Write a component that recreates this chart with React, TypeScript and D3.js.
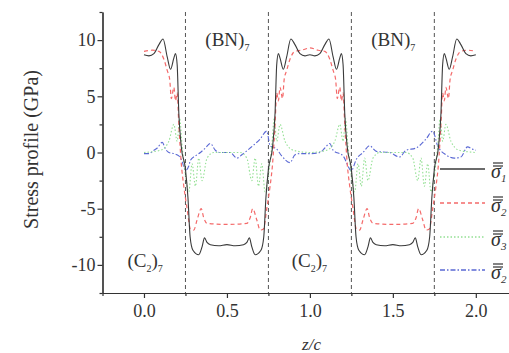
import React, { useEffect, useRef } from 'react';
import * as d3 from 'd3';

// stress profiles along the superlattice (z/c, GPa)
const sigma1: [number, number][] = [
  [0, 8.7], [0.03, 8.6], [0.06, 8.8], [0.09, 9.6], [0.115, 10.1], [0.14, 8.5], [0.16, 7.4],
  [0.18, 8.4], [0.19, 8.8], [0.2, 7.8], [0.21, 3.5], [0.225, 0.5], [0.25, -1.5], [0.265, -4],
  [0.278, -7.5], [0.295, -8.7], [0.33, -9.1], [0.35, -8.4], [0.365, -7.6], [0.38, -8.0],
  [0.4, -8.2], [0.45, -8.3], [0.5, -8.2], [0.55, -8.3], [0.6, -8.2], [0.62, -8.0], [0.635, -7.6],
  [0.65, -8.4], [0.67, -9.1], [0.705, -8.7], [0.722, -7.5], [0.735, -4], [0.75, -1.5],
  [0.775, 0.5], [0.79, 3.5], [0.8, 7.8], [0.81, 8.8], [0.82, 8.4], [0.84, 7.4], [0.86, 8.5],
  [0.885, 10.1], [0.91, 9.6], [0.94, 8.8], [0.97, 8.6], [1.0, 8.7],
  [1.03, 8.6], [1.06, 8.8], [1.09, 9.6], [1.115, 10.1], [1.14, 8.5], [1.16, 7.4], [1.18, 8.4],
  [1.19, 8.8], [1.2, 7.8], [1.21, 3.5], [1.225, 0.5], [1.25, -1.5], [1.265, -4], [1.278, -7.5],
  [1.295, -8.7], [1.33, -9.1], [1.35, -8.4], [1.365, -7.6], [1.38, -8.0], [1.4, -8.2],
  [1.45, -8.3], [1.5, -8.2], [1.55, -8.3], [1.6, -8.2], [1.62, -8.0], [1.635, -7.6], [1.65, -8.4],
  [1.67, -9.1], [1.705, -8.7], [1.722, -7.5], [1.735, -4], [1.75, -1.5], [1.775, 0.5],
  [1.79, 3.5], [1.8, 7.8], [1.81, 8.8], [1.82, 8.4], [1.84, 7.4], [1.86, 8.5], [1.885, 10.1],
  [1.91, 9.6], [1.94, 8.8], [1.97, 8.6], [2.0, 8.7],
];

const sigma2: [number, number][] = [
  [0, 9.0], [0.05, 9.1], [0.09, 9.0], [0.12, 8.3], [0.14, 7.3], [0.155, 6.5], [0.165, 4.8],
  [0.18, 5.8], [0.19, 4.6], [0.2, 5.3], [0.21, 2.5], [0.225, -1], [0.24, -3], [0.26, -5],
  [0.28, -6.8], [0.3, -6.9], [0.32, -6], [0.345, -5], [0.36, -5.8], [0.38, -6.3], [0.5, -6.4],
  [0.62, -6.3], [0.64, -5.8], [0.655, -5], [0.68, -6], [0.7, -6.9], [0.72, -6.8], [0.74, -5],
  [0.76, -3], [0.775, -1], [0.79, 2.5], [0.8, 5.3], [0.81, 4.6], [0.82, 5.8], [0.835, 4.8],
  [0.845, 6.5], [0.86, 7.3], [0.88, 8.3], [0.91, 9.0], [0.95, 9.1], [1.0, 9.3],
  [1.05, 9.1], [1.09, 9.0], [1.12, 8.3], [1.14, 7.3], [1.155, 6.5], [1.165, 4.8], [1.18, 5.8],
  [1.19, 4.6], [1.2, 5.3], [1.21, 2.5], [1.225, -1], [1.24, -3], [1.26, -5], [1.28, -6.8],
  [1.3, -6.9], [1.32, -6], [1.345, -5], [1.36, -5.8], [1.38, -6.3], [1.5, -6.4], [1.62, -6.3],
  [1.64, -5.8], [1.655, -5], [1.68, -6], [1.7, -6.9], [1.72, -6.8], [1.74, -5], [1.76, -3],
  [1.775, -1], [1.79, 2.5], [1.8, 5.3], [1.81, 4.6], [1.82, 5.8], [1.835, 4.8], [1.845, 6.5],
  [1.86, 7.3], [1.88, 8.3], [1.91, 9.0], [1.95, 9.1], [2.0, 9.0],
];

const sigma3: [number, number][] = [
  [0, 0], [0.1, 0.2], [0.15, 1], [0.18, 2.5], [0.2, 1], [0.215, 3], [0.23, 0.5], [0.25, -2],
  [0.27, -3.5], [0.29, -1], [0.31, -3], [0.33, -0.5], [0.35, -2.5], [0.38, -0.5], [0.42, 0],
  [0.58, 0], [0.62, -0.5], [0.65, -2.5], [0.67, -0.5], [0.69, -3], [0.71, -1], [0.73, -3.5],
  [0.75, -2], [0.77, 0.5], [0.785, 3], [0.8, 1], [0.82, 2.5], [0.85, 1], [0.9, 0.2], [1.0, 0],
  [1.1, 0.2], [1.15, 1], [1.18, 2.5], [1.2, 1], [1.215, 3], [1.23, 0.5], [1.25, -2],
  [1.27, -3.5], [1.29, -1], [1.31, -3], [1.33, -0.5], [1.35, -2.5], [1.38, -0.5], [1.42, 0],
  [1.58, 0], [1.62, -0.5], [1.65, -2.5], [1.67, -0.5], [1.69, -3], [1.71, -1], [1.73, -3.5],
  [1.75, -2], [1.77, 0.5], [1.785, 3], [1.8, 1], [1.82, 2.5], [1.85, 1], [1.9, 0.2], [2.0, 0],
];

const sigma4: [number, number][] = [
  [0, -0.1], [0.03, -0.1], [0.06, 0.2], [0.08, 0.4], [0.11, 0.9], [0.13, 0.3], [0.15, 0],
  [0.18, -0.1], [0.21, -0.3], [0.23, -0.8], [0.25, -1.6], [0.27, -1.2], [0.28, -0.7],
  [0.31, -0.3], [0.34, 0], [0.37, 0.4], [0.4, 0.8], [0.43, 0.2], [0.46, 0], [0.52, 0],
  [0.56, -0.5], [0.59, -0.2], [0.64, 0.4], [0.7, 1.2], [0.74, 1.9], [0.76, 0.6], [0.8, 0.3],
  [0.83, -0.3], [0.88, -0.9], [0.91, -0.2], [0.94, -0.1], [1.0, -0.1], [1.06, 0], [1.09, 0.4],
  [1.12, 0.8], [1.14, 0.2], [1.2, -0.3], [1.25, -1.6], [1.28, -0.6], [1.32, 0], [1.36, 0.6],
  [1.4, 0.1], [1.48, 0], [1.54, -0.4], [1.58, 0.2], [1.64, 0.4], [1.7, 1.2], [1.74, 1.9],
  [1.77, 0.6], [1.82, -0.2], [1.87, -0.5], [1.91, -0.4], [1.95, 0.5], [1.98, 0.3], [2.0, 0.2],
];

const xTicks = [0, 0.5, 1.0, 1.5, 2.0];
const xMinorTicks = [-0.25, 0.25, 0.75, 1.25, 1.75];
const yTicks = [-10, -5, 0, 5, 10];
const yMinorTicks = [-12.5, -7.5, -2.5, 2.5, 7.5, 12.5];
const interfaces = [0.25, 0.75, 1.25, 1.75];
const legendSubs = ['1', '2', '3', '2'];

const regionLabels = [
  { text: '(BN)', sub: '7', z: 0.37, v: 9.5 },
  { text: '(BN)', sub: '7', z: 1.37, v: 9.5 },
  { text: '(C', sub: '2', tail: ')', sub2: '7', z: -0.1, v: -10.2 },
  { text: '(C', sub: '2', tail: ')', sub2: '7', z: 0.89, v: -10.2 },
];

const width = 509;
const height = 353;
const serif = "'Liberation Serif', 'Times New Roman', serif";

const App = () => {
  const chartRef = useRef<SVGSVGElement>(null);

  useEffect(() => {
    const svg = d3.select(chartRef.current);
    svg.selectAll('*').remove();

    const x = d3.scaleLinear().domain([-0.25, 2.2]).range([102.5, 509]);
    const y = d3.scaleLinear().domain([-12.5, 12.5]).range([293, 12]);

    const series = [
      { data: sigma1, color: '#3a3a3a', dash: null, w: 1.1 },
      { data: sigma2, color: '#f46a6a', dash: '4,3', w: 1.2 },
      { data: sigma3, color: '#94e094', dash: '1.5,2', w: 1.1 },
      { data: sigma4, color: '#5a68d4', dash: '5,2,1.5,2', w: 1.1 },
    ];

    // interface markers
    svg.append('g')
      .selectAll('line')
      .data(interfaces)
      .join('line')
      .attr('x1', d => x(d)).attr('x2', d => x(d))
      .attr('y1', y(12.5)).attr('y2', y(-12.5))
      .attr('stroke', '#555')
      .attr('stroke-width', 1)
      .attr('stroke-dasharray', '4,3');

    const line = d3.line<[number, number]>()
      .x(d => x(d[0]))
      .y(d => y(d[1]))
      .curve(d3.curveMonotoneX);

    svg.append('g')
      .selectAll('path')
      .data(series.slice().reverse())
      .join('path')
      .attr('d', d => line(d.data))
      .attr('fill', 'none')
      .attr('stroke', d => d.color)
      .attr('stroke-width', d => d.w)
      .attr('stroke-dasharray', d => d.dash);

    // axes
    const styleAxis = g => {
      g.selectAll('.domain').attr('stroke', '#333').attr('stroke-width', 1.2);
      g.selectAll('.tick line').attr('stroke', '#333').attr('stroke-width', 1.2);
      g.selectAll('.tick text').attr('fill', '#333').attr('font-family', serif).attr('font-size', 18);
    };

    svg.append('g')
      .attr('transform', `translate(0, ${y(-12.5)})`)
      .call(d3.axisBottom(x).tickValues(xTicks).tickSize(5).tickSizeOuter(0).tickPadding(6)
        .tickFormat(d => d3.format('.1f')(d)))
      .call(styleAxis);
    svg.append('g')
      .attr('transform', `translate(0, ${y(-12.5)})`)
      .call(d3.axisBottom(x).tickValues(xMinorTicks).tickSize(3).tickSizeOuter(0).tickFormat(() => ''))
      .call(styleAxis);

    svg.append('g')
      .attr('transform', `translate(${x(-0.25)}, 0)`)
      .call(d3.axisLeft(y).tickValues(yTicks).tickSize(5).tickSizeOuter(0).tickPadding(2)
        .tickFormat(d => String(d)))
      .call(styleAxis);
    svg.append('g')
      .attr('transform', `translate(${x(-0.25)}, 0)`)
      .call(d3.axisLeft(y).tickValues(yMinorTicks).tickSize(3).tickSizeOuter(0).tickFormat(() => ''))
      .call(styleAxis);

    // axis titles
    svg.append('text')
      .attr('transform', `translate(38, ${y(0) - 3}) rotate(-90)`)
      .attr('text-anchor', 'middle')
      .attr('font-family', serif)
      .attr('font-size', 20)
      .attr('fill', '#333')
      .text('Stress profile (GPa)');

    svg.append('text')
      .attr('x', x(1.01))
      .attr('y', 350)
      .attr('text-anchor', 'middle')
      .attr('font-family', serif)
      .attr('font-style', 'italic')
      .attr('font-size', 17)
      .attr('fill', '#333')
      .text('z/c');

    // region labels
    regionLabels.forEach(l => {
      const t = svg.append('text')
        .attr('x', x(l.z))
        .attr('y', y(l.v))
        .attr('font-family', serif)
        .attr('font-size', 19)
        .attr('fill', '#333');
      t.append('tspan').text(l.text);
      t.append('tspan').attr('font-size', 10).attr('dy', 5).text(l.sub);
      if (l.tail) {
        t.append('tspan').attr('dy', -5).text(l.tail);
        t.append('tspan').attr('font-size', 10).attr('dy', 5).text(l.sub2);
      }
    });

    // legend
    const legend = svg.append('g');
    const legendY = [169, 203, 237, 270];
    series.forEach((s, i) => {
      const ly = legendY[i];
      legend.append('line')
        .attr('x1', 440).attr('x2', 485)
        .attr('y1', ly).attr('y2', ly)
        .attr('stroke', s.color)
        .attr('stroke-width', s.w + 0.2)
        .attr('stroke-dasharray', s.dash);
      const t = legend.append('text')
        .attr('x', 491)
        .attr('y', ly + 9)
        .attr('font-family', serif)
        .attr('font-style', 'italic')
        .attr('font-size', 20)
        .attr('fill', '#333');
      t.append('tspan').text('σ');
      t.append('tspan').attr('font-size', 11).attr('dy', 4).text(legendSubs[i]);
      [0, 3].forEach(off => {
        legend.append('line')
          .attr('x1', 493).attr('x2', 503)
          .attr('y1', ly - 6 + off).attr('y2', ly - 6 + off)
          .attr('stroke', '#333')
          .attr('stroke-width', 1.2);
      });
    });
  });

  return (
    <svg
      ref={chartRef}
      width={width}
      height={height}
      viewBox={`0 0 ${width} ${height}`}
      style={{ position: 'absolute', left: 0, top: 0, background: '#fff' }}
    />
  );
};

export default App;
